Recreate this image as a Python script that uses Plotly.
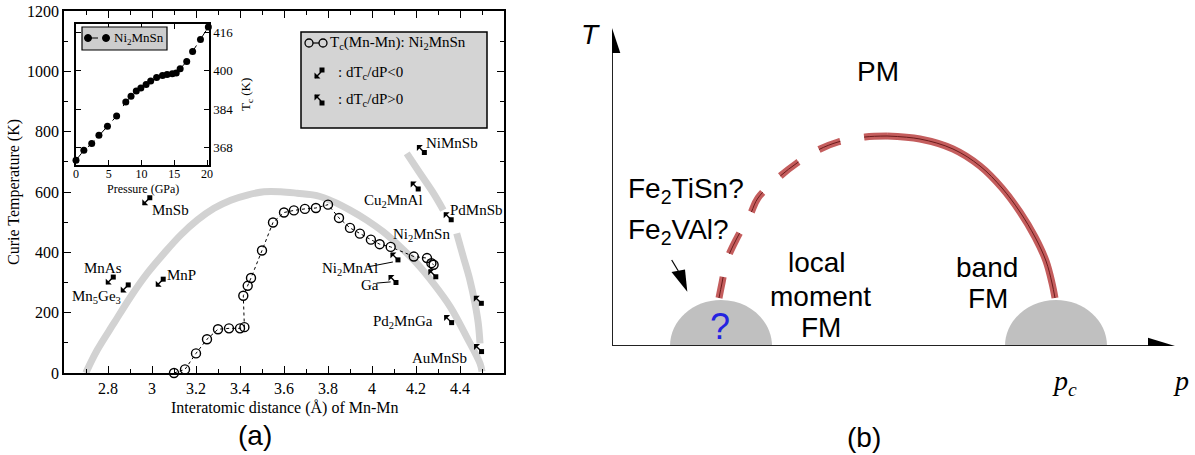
import plotly.graph_objects as go

W, H = 1195, 455
SERIF = "Liberation Serif"
SANS = "Liberation Sans"

# ================= DATA : panel (a) =================
# Tc of Ni2MnSn vs Mn-Mn distance (open circles)
dist_mnmn = [3.10, 3.15, 3.20, 3.25, 3.30, 3.35, 3.40, 3.42, 3.415, 3.435, 3.45,
             3.50, 3.55, 3.60, 3.645, 3.695, 3.745, 3.80, 3.85, 3.90, 3.945,
             3.995, 4.035, 4.085, 4.19, 4.25, 4.27, 4.28]
tc_mnmn = [0, 12, 65, 112, 145, 148, 148, 152, 256, 289, 315,
           406, 499, 532, 539, 544, 547, 558, 514, 481, 462,
           442, 427, 418, 386, 381, 364, 359]

# inset: Tc of Ni2MnSn vs pressure
pressure_gpa = [0.0, 1.2, 2.4, 3.5, 4.8, 6.2, 7.6, 8.4, 9.2, 9.9, 10.7,
                11.4, 12.3, 13.2, 13.9, 14.7, 15.3, 15.9, 16.9, 17.8, 19.0, 20.2]
tc_pressure = [362.8, 366.9, 369.7, 373.2, 376.9, 381.2, 387.0, 389.4, 391.6, 392.9, 394.3,
               395.8, 397.2, 398.1, 398.5, 398.8, 399.1, 400.9, 403.9, 408.1, 413.0, 418.2]

# compounds with sign of dTc/dP (square + arrow)
comp_dist = [2.99, 2.824, 2.892, 3.051, 4.238, 4.21, 4.36, 4.118, 4.109, 4.29, 4.362, 4.497, 4.498]
comp_tc = [581, 318, 292, 311, 731, 610, 508, 375, 300, 319, 167, 231, 71]
comp_sign = [-1, -1, -1, -1, 1, 1, 1, 1, 1, 1, 1, 1, 1]

compound_labels = ["MnSb", "MnAs", "Mn<sub>5</sub>Ge<sub>3</sub>", "MnP", "NiMnSb",
                   "Cu<sub>2</sub>MnAl", "PdMnSb", "Ni<sub>2</sub>MnSn", "Ni<sub>2</sub>MnAl",
                   "Ga", "Pd<sub>2</sub>MnGa", "AuMnSb"]
label_dist = [3.082, 2.779, 2.748, 3.135, 4.364, 4.097, 4.476, 4.226, 3.90, 3.99, 4.142, 4.309]
label_tc = [541, 348, 253, 326, 763, 569, 541, 458, 344, 292, 170, 49]

# grey guide bands
band_main_dist = [2.699, 2.751, 2.827, 2.903, 2.979, 3.055, 3.130, 3.206, 3.282, 3.358,
                  3.433, 3.509, 3.585, 3.660, 3.749, 3.824, 3.900, 3.976, 4.051, 4.127,
                  4.203, 4.279, 4.355, 4.430, 4.491, 4.50]
band_main_tc = [0, 76, 165, 253, 331, 397, 457, 507, 546, 573,
                590, 601, 601, 596, 588, 568, 540, 507, 468, 419,
                364, 297, 220, 120, 32, 5]
band_side_dist = [4.158, 4.218, 4.279, 4.324, None, 4.385, 4.415, 4.445, 4.468, 4.483, 4.491]
band_side_tc = [728, 662, 596, 540, None, 463, 385, 308, 231, 165, 98]

x_ticks = [2.8, 3.0, 3.2, 3.4, 3.6, 3.8, 4.0, 4.2, 4.4]
x_ticktext = ["2.8", "3", "3.2", "3.4", "3.6", "3.8", "4", "4.2", "4.4"]
x_minor = [2.7, 2.9, 3.1, 3.3, 3.5, 3.7, 3.9, 4.1, 4.3, 4.5]
y_ticks = [0, 200, 400, 600, 800, 1000, 1200]
y_minor = [100, 300, 500, 700, 900, 1100]
inset_xticks = [0, 5, 10, 15, 20]
inset_yticks = [368, 384, 400, 416]

# ================= DATA : panel (b) (schematic units) =================
dashed_p = [2.75, 2.53, 2.26, 2.06, 1.85, 1.66, 1.46, 1.38, 1.25, 1.15, 1.10, 1.07]
dashed_T = [2.10, 2.09, 2.04, 1.96, 1.83, 1.68, 1.48, 1.31, 1.08, 0.86, 0.63, 0.48]
solid_p = [2.75, 3.08, 3.41, 3.68, 3.90, 4.08, 4.23, 4.34, 4.40, 4.43]
solid_T = [2.10, 2.07, 1.97, 1.80, 1.58, 1.34, 1.09, 0.85, 0.63, 0.48]
bump_p = [1.09, 4.44]

# ================= geometry =================
A_PX = (64, 504); A_PY = (373, 11)
A_XR = [2.6, 4.6]; A_YR = [0, 1200]
I_PX = (76, 209); I_PY = (165, 24)
I_XR = [0, 20.3]; I_YR = [360.8, 419.5]
B_PX = (612, 1175); B_PY = (346, 28)
B_XR = [0, 5.63]; B_YR = [0, 3.18]


def fx(px):
    return px / W


def fy(py):
    return 1 - py / H


def b_xy(px, py):
    return ((px - B_PX[0]) / 100.0, (B_PY[0] - py) / 100.0)


fig = go.Figure()

# ---- panel (a) traces ----
fig.add_trace(go.Scatter(x=band_main_dist, y=band_main_tc, mode="lines",
                         line=dict(color="#d2d2d2", width=7, shape="spline"),
                         xaxis="x", yaxis="y", hoverinfo="skip"))
fig.add_trace(go.Scatter(x=band_side_dist, y=band_side_tc, mode="lines",
                         line=dict(color="#d2d2d2", width=7, shape="spline"),
                         xaxis="x", yaxis="y", hoverinfo="skip"))
fig.add_trace(go.Scatter(x=dist_mnmn, y=tc_mnmn, mode="lines+markers",
                         line=dict(color="black", width=1, dash="dot"),
                         marker=dict(symbol="circle-open", size=9, color="black",
                                     line=dict(width=1.4, color="black")),
                         xaxis="x", yaxis="y", cliponaxis=False))
fig.add_trace(go.Scatter(x=comp_dist, y=comp_tc, mode="markers",
                         marker=dict(symbol="square", size=5, color="black"),
                         xaxis="x", yaxis="y", cliponaxis=False))
# inset
fig.add_trace(go.Scatter(x=pressure_gpa, y=tc_pressure, mode="lines+markers",
                         line=dict(color="black", width=1, dash="dash"),
                         marker=dict(symbol="circle", size=7, color="black"),
                         xaxis="x3", yaxis="y3", cliponaxis=False))

# ---- panel (b) traces ----
for px_, py_, dash in [(dashed_p, dashed_T, "23px,24px"), (solid_p, solid_T, None)]:
    fig.add_trace(go.Scatter(x=px_, y=py_, mode="lines",
                             line=dict(color="#c45d5d", width=7, shape="spline", dash=dash),
                             xaxis="x2", yaxis="y2", hoverinfo="skip"))
    fig.add_trace(go.Scatter(x=px_, y=py_, mode="lines",
                             line=dict(color="#6a1c1c", width=1, shape="spline", dash=dash),
                             xaxis="x2", yaxis="y2", hoverinfo="skip"))

shapes = []
annotations = []


def p_text(px, py, text, size, family=SERIF, color="black", xanchor="center", angle=0):
    annotations.append(dict(xref="paper", yref="paper", x=fx(px), y=fy(py), text=text,
                            showarrow=False, xanchor=xanchor, yanchor="middle",
                            textangle=angle,
                            font=dict(family=family, size=size, color=color)))


# ---- main legend box ----
shapes.append(dict(type="rect", xref="paper", yref="paper",
                   x0=fx(301), x1=fx(487), y0=fy(128), y1=fy(32),
                   fillcolor="#d4d4d4", line=dict(color="black", width=1.5), layer="above"))
shapes.append(dict(type="line", xref="paper", yref="paper",
                   x0=fx(310), x1=fx(322), y0=fy(43), y1=fy(43),
                   line=dict(color="black", width=1.2), layer="above"))
for cx in (309, 323):
    shapes.append(dict(type="circle", xref="paper", yref="paper",
                       x0=fx(cx - 4), x1=fx(cx + 4), y0=fy(47), y1=fy(39),
                       fillcolor="#d4d4d4", line=dict(color="black", width=1.3), layer="above"))
p_text(328, 43, "T<sub>c</sub>(Mn-Mn): Ni<sub>2</sub>MnSn", 15, xanchor="left")
for row_y, sgn, txt in [(73, -1, ": dT<sub>c</sub>/dP&lt;0"), (100, 1, ": dT<sub>c</sub>/dP&gt;0")]:
    sx = 322
    sy = row_y - 3 if sgn < 0 else row_y + 3
    shapes.append(dict(type="rect", xref="paper", yref="paper",
                       x0=fx(sx - 2.5), x1=fx(sx + 2.5), y0=fy(sy + 2.5), y1=fy(sy - 2.5),
                       fillcolor="black", line=dict(width=0), layer="above"))
    annotations.append(dict(xref="paper", yref="paper", x=fx(sx - 1), y=fy(sy + (2 if sgn < 0 else -2)),
                            ax=-8, ay=8 if sgn < 0 else -8, text="", showarrow=True,
                            arrowside="start", arrowhead=2, arrowsize=0.9, arrowwidth=1.4,
                            arrowcolor="black"))
    p_text(336, row_y, txt, 15, xanchor="left")

# ---- inset legend ----
shapes.append(dict(type="rect", xref="paper", yref="paper",
                   x0=fx(82), x1=fx(167), y0=fy(50), y1=fy(27),
                   fillcolor="#cdcdcd", line=dict(color="black", width=1.2), layer="above"))
shapes.append(dict(type="line", xref="paper", yref="paper",
                   x0=fx(89), x1=fx(105), y0=fy(38), y1=fy(38),
                   line=dict(color="black", width=1, dash="dash"), layer="above"))
for cx in (88, 106):
    shapes.append(dict(type="circle", xref="paper", yref="paper",
                       x0=fx(cx - 3.5), x1=fx(cx + 3.5), y0=fy(41.5), y1=fy(34.5),
                       fillcolor="black", line=dict(color="black", width=1), layer="above"))
p_text(112, 38, "Ni<sub>2</sub>MnSn", 13, xanchor="left")
p_text(143, 189, "Pressure (GPa)", 12)
p_text(246, 95, "T<sub>c</sub> (K)", 13, angle=-90)

# ---- compound arrows and labels ----
for cx, ct, sg in zip(comp_dist, comp_tc, comp_sign):
    annotations.append(dict(xref="x", yref="y", x=cx, y=ct, ax=-9, ay=9 if sg < 0 else -9,
                            text="", showarrow=True, arrowside="start", arrowhead=2,
                            arrowsize=0.9, arrowwidth=1.4, arrowcolor="black"))
for txt, lx, lt in zip(compound_labels, label_dist, label_tc):
    annotations.append(dict(xref="x", yref="y", x=lx, y=lt, showarrow=False, text=txt,
                            xanchor="center", yanchor="middle",
                            font=dict(family=SERIF, size=15, color="black")))
# leader lines for Ni2MnAl and Ga
shapes.append(dict(type="line", xref="x", yref="y", x0=3.982, y0=352, x1=4.095, y1=368,
                   line=dict(color="black", width=1)))
shapes.append(dict(type="line", xref="x", yref="y", x0=4.021, y0=298, x1=4.085, y1=302,
                   line=dict(color="black", width=1)))

# ---- axis titles panel (a) ----
p_text(284, 408, "Interatomic distance (Å) of Mn-Mn", 16)
p_text(14, 192, "Curie Temperature (K)", 16, angle=-90)
p_text(255, 435, "(a)", 28, family=SANS)

# ---- panel (b) shapes ----
k = 0.5523
for c in bump_p:
    rx, ry = 0.51, 0.46
    path = (f"M {c - rx},0 C {c - rx},{k * ry} {c - k * rx},{ry} {c},{ry} "
            f"C {c + k * rx},{ry} {c + rx},{k * ry} {c + rx},0 Z")
    shapes.append(dict(type="path", xref="x2", yref="y2", path=path,
                       fillcolor="#c0c0c0", line=dict(width=0), layer="below"))
tip_h = b_xy(1175, 346); base_h = b_xy(1148, 346)
tip_v = b_xy(612, 28); base_v = b_xy(612, 53)
shapes.append(dict(type="line", xref="x2", yref="y2", x0=0, y0=0, x1=base_h[0], y1=0,
                   line=dict(color="#222222", width=2), layer="below"))
shapes.append(dict(type="line", xref="x2", yref="y2", x0=0, y0=0, x1=0, y1=base_v[1],
                   line=dict(color="#222222", width=2), layer="below"))
hw = 0.083
shapes.append(dict(type="path", xref="x2", yref="y2",
                   path=f"M {base_h[0]},{-hw} L {base_h[0]},{hw} L {tip_h[0]},0 Z",
                   fillcolor="black", line=dict(width=0)))
shapes.append(dict(type="path", xref="x2", yref="y2",
                   path=f"M {-hw},{base_v[1]} L {hw},{base_v[1]} L 0,{tip_v[1]} Z",
                   fillcolor="black", line=dict(width=0)))
# small pointer arrow near Fe2VAl
a0 = b_xy(671.7, 260); a1 = b_xy(678.3, 271)
t0 = b_xy(687.3, 291.7); c1 = b_xy(671.5, 272); c2 = b_xy(685, 269.5)
shapes.append(dict(type="line", xref="x2", yref="y2", x0=a0[0], y0=a0[1], x1=a1[0], y1=a1[1],
                   line=dict(color="black", width=1.2)))
shapes.append(dict(type="path", xref="x2", yref="y2",
                   path=f"M {c1[0]},{c1[1]} L {c2[0]},{c2[1]} L {t0[0]},{t0[1]} Z",
                   fillcolor="black", line=dict(width=0)))

p_text(878, 71, "PM", 28, family=SANS)
p_text(626, 190, "Fe<sub>2</sub>TiSn?", 28, family=SANS, xanchor="left")
p_text(626, 232, "Fe<sub>2</sub>VAl?", 28, family=SANS, xanchor="left")
p_text(817, 262, "local", 28, family=SANS)
p_text(820, 296, "moment", 28, family=SANS)
p_text(821, 327, "FM", 28, family=SANS)
p_text(987, 267, "band", 28, family=SANS)
p_text(988, 298, "FM", 28, family=SANS)
p_text(720, 326, "?", 36, family=SANS, color="#2424e0")
p_text(590, 35, "<i>T</i>", 28, family=SANS)
p_text(1064, 382, "<i>p<sub>c</sub></i>", 28)
p_text(1181, 380, "<i>p</i>", 28)
p_text(864, 437, "(b)", 28, family=SANS)

axis_common = dict(showline=True, linecolor="black", linewidth=1.5, mirror="ticks",
                   ticks="inside", tickcolor="black", tickwidth=1.2, showgrid=False,
                   zeroline=False, automargin=False)

fig.update_layout(
    width=W, height=H, margin=dict(l=0, r=0, t=0, b=0, pad=0, autoexpand=False),
    paper_bgcolor="white", plot_bgcolor="white", showlegend=False,
    xaxis=dict(domain=[fx(A_PX[0]), fx(A_PX[1])], range=A_XR, anchor="y",
               tickvals=x_ticks, ticktext=x_ticktext, ticklen=7,
               tickfont=dict(family=SERIF, size=16, color="black"),
               minor=dict(tickvals=x_minor, ticklen=4, ticks="inside", tickcolor="black"),
               **axis_common),
    yaxis=dict(domain=[fy(A_PY[0]), fy(A_PY[1])], range=A_YR, anchor="x",
               tickvals=y_ticks, ticklen=7,
               tickfont=dict(family=SERIF, size=16, color="black"),
               minor=dict(tickvals=y_minor, ticklen=4, ticks="inside", tickcolor="black"),
               **axis_common),
    xaxis3=dict(domain=[fx(I_PX[0]), fx(I_PX[1])], range=I_XR, anchor="y3",
                tickvals=inset_xticks, ticklen=5, ticklabelstandoff=-3,
                tickfont=dict(family=SERIF, size=12, color="black"),
                **axis_common),
    yaxis3=dict(domain=[fy(I_PY[0]), fy(I_PY[1])], range=I_YR, anchor="x3", side="right",
                tickvals=inset_yticks, ticklen=5,
                tickfont=dict(family=SERIF, size=13, color="black"),
                **axis_common),
    xaxis2=dict(domain=[fx(B_PX[0]), fx(B_PX[1])], range=B_XR, anchor="y2", visible=False,
                automargin=False),
    yaxis2=dict(domain=[fy(B_PY[0]), fy(B_PY[1])], range=B_YR, anchor="x2", visible=False,
                automargin=False),
    shapes=shapes,
    annotations=annotations,
)

fig.write_html("out.html")
